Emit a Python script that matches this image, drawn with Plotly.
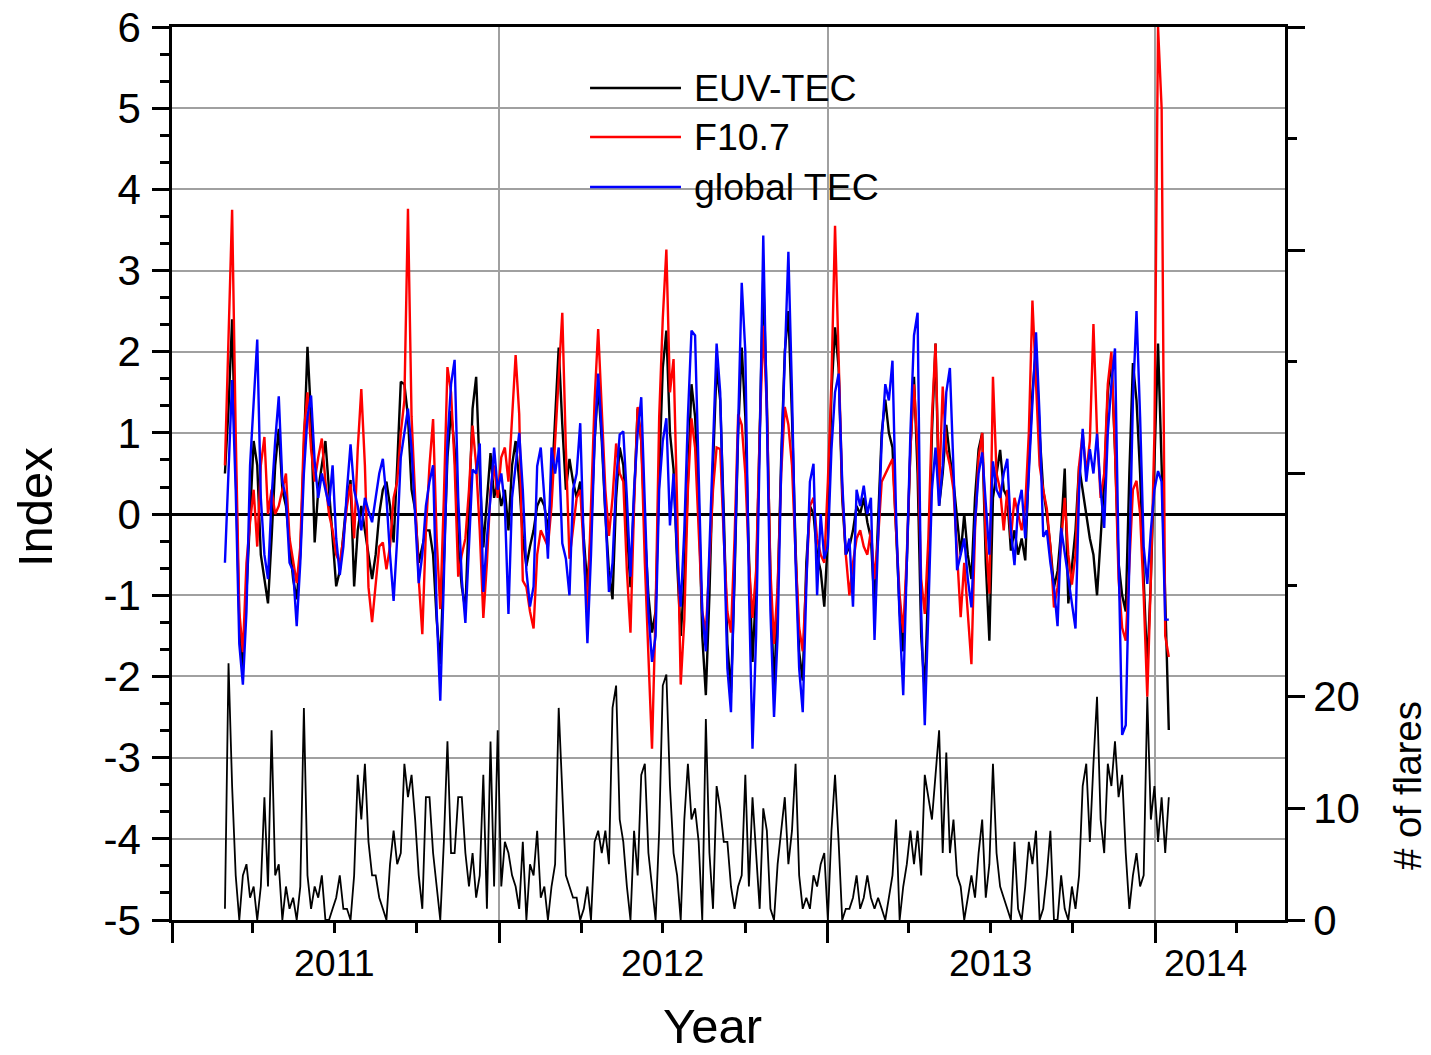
import pandas as pd
import plotly.graph_objects as go

# Daily solar/ionospheric indices sampled every 4 days from 1 March 2011
start_date = "2011-03-01"
step = "4D"

euv_tec = [
    0.5, 1.3, 2.4, 0.6, -1.3, -1.9, -0.9, 0.1, 0.9, 0.6,
    -0.5, -0.8, -1.1, -0.3, 0.6, 1.05, 0.3, 0.1, -0.4, -0.8,
    -1.05, -0.5, 0.8, 2.06, 1.2, -0.35, 0.3, 0.6, 0.9, 0.3,
    -0.3, -0.89, -0.7, -0.2, 0.2, 0.42, -0.89, -0.2, 0.1, -0.2,
    -0.5, -0.8, -0.5, 0.0, 0.3, 0.4, 0.1, -0.35, 0.6, 1.63,
    1.6, 1.2, 0.3, 0.05, -0.6, -0.4, -0.2, -0.2, -0.5, -1.3,
    -1.85, -0.6, 0.7, 1.27, 0.8, -0.4, -0.9, -1.18, 0.2, 1.3,
    1.69, 0.5, -0.41, 0.2, 0.75, 0.2, 0.4, 0.1, 0.3, -0.2,
    0.6, 0.9, 0.4, -0.3, -0.64, -0.4, -0.2, 0.1, 0.2, 0.1,
    -0.2, 0.3, 1.2, 2.05, 1.1, 0.3, 0.68, 0.4, 0.2, 0.4,
    -0.3, -0.9, -0.2, 0.9, 1.59, 0.9, 0.0, -0.7, -1.05, 0.2,
    0.82, 0.6, -0.2, -0.9, 0.2, 1.3, 0.9, -0.2, -1.0, -1.46,
    -1.2, 0.5, 1.8, 2.26, 1.0, 0.55, -0.6, -1.5, -0.8, 0.5,
    1.6, 1.2, 0.2, -1.5, -2.23, -1.0, 0.6, 1.82, 1.4, 0.0,
    -1.6, -2.2, -0.8, 1.0, 2.05, 1.2, -0.5, -1.82, -0.9, 1.0,
    2.92, 1.4, -0.8, -2.2, -1.0, 0.7, 2.0, 2.5, 1.2, -0.4,
    -1.7, -2.05, -0.6, 0.1, 0.0, -0.5, -0.7, -1.14, -0.3, 1.5,
    2.3, 1.8, 0.2, -0.5, -0.4, -0.2, 0.1, 0.0, 0.2, -0.1,
    -0.3, -1.14, 0.0, 1.0, 1.41, 1.0, 0.82, -0.3, -1.2, -1.69,
    -0.6, 0.8, 1.69, 0.5, -1.5, -2.19, -0.8, 1.0, 2.1, 0.1,
    0.5, 1.1, 0.7, 0.4, -0.1, -0.5, 0.0, -0.5, -0.8, 0.2,
    0.8, 1.0, -0.6, -1.56, 0.2, 0.5, 0.79, 0.3, 0.2, -0.45,
    -0.2, -0.5, -0.3, -0.57, 0.6, 1.5, 2.04, 1.0, 0.3, 0.0,
    -0.4, -0.9, -0.7, -0.2, 0.56, -1.1, -0.6, -0.2, 0.59, 0.3,
    0.0, -0.3, -0.5, -1.0, -0.3, 0.4, 1.5, 1.9, 0.8, -0.6,
    -1.0, -1.2, 0.5, 1.86, 1.4, 0.5, -0.8, -1.9, -0.8, 0.6,
    2.1, 0.6, -1.2, -2.66,
]

f107 = [
    0.6, 2.3, 3.75, 1.0, -1.2, -1.7, -0.6, -0.1, 0.3, -0.4,
    0.6, 0.95, 0.0, 0.3, 0.0, 0.1, 0.3, 0.5, -0.3, -0.6,
    -0.85, -0.4, 1.0, 1.5, 0.8, 0.4, 0.7, 0.93, 0.4, 0.0,
    -0.2, -0.5, -0.6, -0.3, 0.1, 0.37, -0.3, 0.8, 1.54, 0.6,
    -0.9, -1.33, -0.9, -0.4, -0.35, -0.68, -0.4, 0.2, 0.4, 1.0,
    1.4, 3.76, 1.2, 0.1, -0.8, -1.48, -0.2, 0.6, 1.17, -0.3,
    -1.17, 0.2, 1.81, 1.5, 0.6, -0.77, -0.5, -0.3, 0.3, 1.09,
    0.6, -0.2, -1.28, -0.6, 0.3, 0.6, 0.2, 0.7, 0.82, 0.4,
    1.2, 1.96, 1.23, -0.82, -0.9, -1.2, -1.41, -0.5, -0.2, -0.3,
    -0.4, 0.1, 0.9, 1.7, 2.48, 0.8, -0.55, -0.18, 0.2, 0.3,
    -0.5, -1.23, 0.1, 1.4, 2.28, 1.2, 0.3, -0.27, 0.2, 0.87,
    0.5, 0.4, -0.7, -1.46, 0.1, 1.32, 0.9, -0.6, -1.7, -2.89,
    -1.2, 1.2, 2.41, 3.26, 1.5, 1.91, 0.1, -2.1, -1.3, 0.3,
    1.18, 0.82, -0.2, -1.2, -1.46, -0.6, 0.3, 0.82, 0.8, -0.3,
    -1.2, -1.46, -0.3, 1.23, 1.1, 0.5, -0.6, -1.28, -0.7, 1.0,
    2.32, 1.3, -0.7, -1.6, -0.9, 0.5, 1.32, 1.1, 0.6, -0.5,
    -1.4, -1.69, -0.8, 0.1, 0.2, -0.3, -0.5, -0.6, 0.4, 1.64,
    3.55, 2.0, 0.3, -0.5, -1.0, -0.6, -0.3, -0.2, -0.4, -0.5,
    -0.2, -0.8, -0.3, 0.4, 0.5, 0.6, 0.68, -0.2, -1.0, -1.46,
    -0.5, 0.8, 1.6, 0.8, -0.8, -1.23, -0.3, 1.2, 2.1, 0.3,
    1.57, 0.8, 0.6, 0.3, -0.5, -1.27, -0.6, -1.2, -1.85, -0.2,
    0.7, 1.0, -0.3, -0.98, 1.69, 0.5, 0.3, -0.2, 0.3, -0.3,
    0.2, 0.0, -0.2, 0.1, 1.0, 2.63, 1.5, 0.6, 0.3, 0.07,
    -0.4, -1.15, -0.9, -0.3, 0.2, -0.5, -0.87, -0.5, 0.6, 1.0,
    0.5, 0.9, 2.34, 1.0, 0.2, 0.5, 1.6, 2.0, 0.8, -0.8,
    -1.4, -1.56, -0.6, 0.3, 0.41, 0.0, -1.0, -2.25, -0.8, 1.0,
    6.0, 5.0, -1.5, -1.76,
]

global_tec = [
    -0.6, 0.6, 1.65, 0.3, -1.6, -2.1, -1.2, 0.6, 1.4, 2.15,
    0.2, -0.5, -0.8, 0.2, 0.9, 1.45, 0.4, 0.2, -0.6, -0.7,
    -1.38, -0.6, 0.5, 1.2, 1.46, 0.65, 0.2, 0.5, 0.3, 0.1,
    0.6, -0.3, -0.75, -0.4, 0.3, 0.86, 0.3, 0.1, -0.2, 0.2,
    0.04, -0.1, 0.2, 0.5, 0.68, 0.2, -0.5, -1.07, -0.3, 0.7,
    1.0, 1.3, 0.8, 0.05, -0.85, -0.5, 0.1, 0.4, 0.6, -1.2,
    -2.3, -0.8, 0.9, 1.6, 1.9, 0.2, -0.8, -1.34, -0.3, 0.55,
    0.5, 0.87, -0.96, -0.3, 0.2, 0.82, 0.3, 0.5, 0.1, -1.23,
    0.2, 0.6, 1.0, 0.3, -0.7, -1.14, -0.89, 0.59, 0.82, 0.2,
    -0.55, 0.82, 0.5, 0.82, -0.36, -0.55, -1.0, 0.3, 0.5, 1.12,
    -0.4, -1.59, -0.5, 0.9, 1.73, 1.0, 0.1, -0.96, -0.6, 0.4,
    0.98, 1.02, 0.2, -0.77, 0.3, 1.0, 1.44, 0.1, -1.2, -1.82,
    -1.5, 0.3, 0.9, 1.18, -0.14, 0.5, -0.5, -1.14, -0.2, 1.2,
    2.26, 2.2, 0.5, -1.2, -1.69, -0.5, 0.9, 2.1, 1.5, -0.2,
    -1.9, -2.44, -0.6, 1.2, 2.85, 2.0, -0.9, -2.89, -1.5, 0.8,
    3.43, 1.2, -1.2, -2.5, -1.5, 0.6, 2.0, 3.23, 1.5, -0.6,
    -1.9, -2.44, -0.9, 0.4, 0.62, -1.0, 0.0, -0.55, -0.4, 0.8,
    1.5, 1.73, 0.4, -0.5, -0.3, -1.14, 0.3, 0.1, 0.35, 0.0,
    0.2, -1.55, -0.3, 0.9, 1.6, 1.4, 1.89, 0.0, -1.3, -2.23,
    -0.6, 1.0, 2.2, 2.48, -1.2, -2.6, -1.2, 0.3, 0.82, 0.1,
    0.6, 1.5, 1.8, 0.5, -0.69, -0.5, -0.3, -0.8, -1.15, -0.1,
    0.5, 0.76, 0.1, -0.5, 0.65, 0.3, 0.2, 0.5, 0.68, -0.2,
    -0.63, 0.1, 0.3, -0.3, 0.5, 1.4, 2.24, 1.2, -0.28, -0.2,
    -0.6, -0.9, -1.38, -0.17, -0.5, -0.8, -1.1, -1.41, 0.3, 1.05,
    0.4, 0.8, 0.5, 0.99, 0.3, -0.17, 1.0, 1.6, 2.04, -0.5,
    -2.72, -2.6, -0.5, 1.4, 2.5, 1.2, -0.4, -0.86, -0.2, 0.3,
    0.53, 0.4, -1.3, -1.3,
]

flares = [
    1, 23, 12, 4, 0, 4, 5, 2, 3, 0,
    3, 11, 3, 17, 4, 5, 0, 3, 1, 2,
    0, 3, 19, 4, 1, 3, 2, 4, 0, 0,
    1, 2, 4, 1, 1, 0, 4, 13, 9, 14,
    7, 4, 4, 2, 1, 0, 5, 8, 5, 6,
    14, 11, 13, 9, 4, 1, 11, 11, 6, 3,
    0, 7, 16, 6, 6, 11, 11, 6, 3, 6,
    2, 4, 13, 1, 16, 3, 17, 3, 7, 6,
    4, 3, 1, 7, 0, 5, 4, 8, 2, 3,
    0, 3, 5, 19, 11, 4, 3, 2, 2, 0,
    1, 3, 0, 7, 8, 6, 8, 5, 19, 21,
    9, 7, 3, 0, 8, 4, 13, 14, 6, 3,
    0, 8, 21, 22, 12, 6, 4, 0, 9, 14,
    9, 10, 7, 0, 18, 6, 1, 12, 10, 7,
    7, 3, 1, 3, 4, 13, 3, 11, 6, 1,
    10, 8, 1, 0, 5, 8, 11, 5, 8, 14,
    4, 1, 2, 1, 4, 3, 5, 6, 0, 8,
    13, 7, 0, 1, 1, 2, 4, 1, 2, 4,
    2, 1, 2, 1, 0, 2, 4, 9, 0, 3,
    5, 8, 5, 8, 4, 13, 11, 9, 13, 17,
    6, 15, 6, 9, 4, 3, 0, 2, 4, 2,
    6, 9, 2, 5, 14, 6, 3, 2, 1, 0,
    7, 1, 0, 3, 7, 5, 8, 0, 1, 4,
    8, 0, 0, 4, 1, 0, 3, 1, 4, 12,
    14, 7, 14, 20, 9, 6, 14, 12, 16, 11,
    13, 6, 1, 4, 6, 3, 4, 20, 9, 12,
    7, 11, 6, 11,
]

series_names = ["EUV-TEC", "F10.7", "global TEC"]
series_colors = ["#000000", "#ff0000", "#0000ff"]

year_ticks = ["2011-01-01", "2012-01-01", "2013-01-01", "2014-01-01"]
year_labels = ["2011", "2012", "2013", "2014"]
year_label_dates = ["2011-07-01", "2012-07-01", "2013-07-01", "2014-02-26"]
x_range = ["2011-01-01", "2014-05-25 12:00"]

index_ticks = list(range(-5, 7))
index_tick_text = [str(v) for v in index_ticks]

flare_ticks = [0, 10, 20, 40, 60, 80]
flare_tick_text = ["0", "10", "20", "", "", ""]

dates = pd.date_range(start_date, periods=len(euv_tec), freq=step)

FONT = "Arial, Liberation Sans, sans-serif"
AXIS_W = 2.5

fig = go.Figure()

fig.add_trace(go.Scatter(
    x=dates, y=flares, yaxis="y2", mode="lines",
    line=dict(color="#000000", width=1.8), showlegend=False, name="# of flares",
))
for name, vals, color in zip(series_names, [euv_tec, f107, global_tec], series_colors):
    fig.add_trace(go.Scatter(
        x=dates, y=vals, mode="lines", name=name,
        line=dict(color=color, width=2.4), showlegend=False,
    ))

# legend drawn as line samples with text beside them
legend_rows_y = [0.9317, 0.8768, 0.8208]
shapes = [dict(
    type="rect", xref="paper", yref="paper", x0=0.3495, x1=0.6694, y0=0.7895, y1=0.9686,
    fillcolor="white", line=dict(width=0), layer="between",
)]
annotations = []
for name, color, yy in zip(series_names, series_colors, legend_rows_y):
    shapes.append(dict(
        type="line", xref="paper", yref="paper", x0=0.3756, x1=0.4573, y0=yy, y1=yy,
        line=dict(color=color, width=2.4), layer="above",
    ))
    annotations.append(dict(
        text=name, xref="paper", yref="paper", x=0.4672, y=yy, xanchor="left",
        yanchor="middle", showarrow=False, font=dict(family=FONT, size=37.5, color="black"),
    ))

for lab, pos in zip(year_labels, year_label_dates):
    annotations.append(dict(
        text=lab, xref="x", yref="paper", x=pos, y=-0.048, xanchor="center",
        yanchor="middle", showarrow=False, font=dict(family=FONT, size=37.5, color="black"),
    ))

annotations += [
    dict(text="Index", xref="paper", yref="paper", x=-0.123, y=0.4625, textangle=-90,
         xanchor="center", yanchor="middle", showarrow=False,
         font=dict(family=FONT, size=49, color="black")),
    dict(text="Year", xref="paper", yref="paper", x=0.486, y=-0.1185,
         xanchor="center", yanchor="middle", showarrow=False,
         font=dict(family=FONT, size=49, color="black")),
    dict(text="# of flares", xref="paper", yref="paper", x=1.1095, y=0.151, textangle=-90,
         xanchor="center", yanchor="middle", showarrow=False,
         font=dict(family=FONT, size=38.5, color="black")),
]

fig.update_layout(
    width=1431, height=1055,
    margin=dict(l=172, r=146, t=27, b=135, autoexpand=False),
    paper_bgcolor="white", plot_bgcolor="white",
    font=dict(family=FONT, color="black"),
    showlegend=False,
    shapes=shapes,
    annotations=annotations,
    xaxis=dict(
        type="date", range=x_range, automargin=False,
        tickmode="array", tickvals=year_ticks, showticklabels=False,
        ticks="outside", ticklen=20, tickwidth=AXIS_W, tickcolor="black",
        showline=True, linecolor="black", linewidth=AXIS_W, mirror=True,
        showgrid=True, gridcolor="#a0a0a0", gridwidth=1.5, zeroline=False,
        minor=dict(dtick="M3", tick0="2011-01-01", ticks="outside", ticklen=10,
                   tickwidth=AXIS_W, tickcolor="black", showgrid=False),
    ),
    yaxis=dict(
        range=[-5, 6], automargin=False,
        tickmode="array", tickvals=index_ticks, ticktext=index_tick_text,
        ticks="outside", ticklen=17, tickwidth=AXIS_W, tickcolor="black",
        tickfont=dict(family=FONT, size=42, color="black"), ticklabelstandoff=3,
        showline=True, linecolor="black", linewidth=AXIS_W,
        showgrid=True, gridcolor="#a0a0a0", gridwidth=1.5,
        zeroline=True, zerolinecolor="black", zerolinewidth=3,
        minor=dict(dtick=1 / 3, tick0=-5, ticks="outside", ticklen=9,
                   tickwidth=AXIS_W, tickcolor="black", showgrid=False),
    ),
    yaxis2=dict(
        overlaying="y", side="right", anchor="x", range=[0, 80], automargin=False,
        tickmode="array", tickvals=flare_ticks, ticktext=flare_tick_text,
        ticks="outside", ticklen=17, tickwidth=AXIS_W, tickcolor="black",
        tickfont=dict(family=FONT, size=42, color="black"), ticklabelstandoff=0,
        showline=True, linecolor="black", linewidth=AXIS_W,
        showgrid=False, zeroline=False,
        minor=dict(dtick=10, tick0=0, ticks="outside", ticklen=9,
                   tickwidth=AXIS_W, tickcolor="black", showgrid=False),
    ),
)

fig.write_html("out.html")
